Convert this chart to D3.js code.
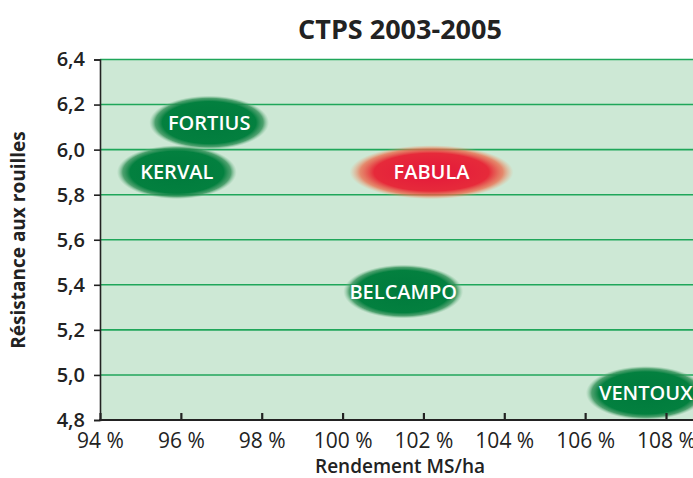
<!DOCTYPE html>
<html><head><meta charset="utf-8">
<script src="https://cdn.jsdelivr.net/npm/d3@7"></script>
<style>body{margin:0;background:#fff;} svg{display:block;font-family:"Open Sans",sans-serif;}</style>
</head><body>
<svg id="c" width="693" height="478"></svg>
<script>
const title = "CTPS 2003-2005";
const xTitle = "Rendement MS/ha";
const yTitle = "Résistance aux rouilles";
const varieties = ["FORTIUS","KERVAL","FABULA","BELCAMPO","VENTOUX"];
const rendement = [96.7, 95.9, 102.2, 101.5, 107.5];
const resistance = [6.12, 5.90, 5.90, 5.37, 4.92];
const highlight = [false, false, true, false, false];
const xTicks = [94,96,98,100,102,104,106,108];
const yTicks = [4.8,5.0,5.2,5.4,5.6,5.8,6.0,6.2,6.4];

const svg = d3.select("#c");
const m = {left:100, top:59.5, bottom:420};
const x = d3.scaleLinear().domain([94,108]).range([m.left, 666]);
const y = d3.scaleLinear().domain([4.8,6.4]).range([m.bottom, m.top]);
const W = 693;

const defs = svg.append("defs");
function grad(id, stops){
  const g = defs.append("radialGradient").attr("id",id).attr("cx","50%").attr("cy","50%").attr("r","50%");
  stops.forEach(s=>g.append("stop").attr("offset",s[0]).attr("stop-color",s[1]).attr("stop-opacity",s[2]));
}
grad("gGreen", [["0%","#007a3c",1],["78%","#03803f",1],["90%","#2e8f55",0.8],["100%","#7fbf95",0]]);
grad("gRed", [["0%","#e4173a",1],["70%","#e62a3a",1],["87%","#ec6a4a",0.75],["100%","#f3a070",0]]);

// plot background
svg.append("rect").attr("x",m.left).attr("y",m.top).attr("width",W-m.left).attr("height",m.bottom-m.top).attr("fill","#cde8d5");

// grid
svg.append("g").selectAll("line").data(yTicks.filter(d=>d>4.8)).join("line")
  .attr("x1",m.left).attr("x2",W).attr("y1",d=>y(d)).attr("y2",d=>y(d))
  .attr("stroke","#1fa65a").attr("stroke-width",1.6);

// title
svg.append("text").attr("x",400).attr("y",39).attr("text-anchor","middle")
  .attr("font-size",27).attr("font-weight",700).attr("fill","#222").text(title);

// ellipses
const pts = varieties.map((v,i)=>({name:v, x:rendement[i], y:resistance[i], hl:highlight[i]}));
const g = svg.append("g").selectAll("g").data(pts).join("g")
  .attr("transform",d=>`translate(${x(d.x)},${y(d.y)})`);
g.append("ellipse").attr("rx",d=>d.hl?82:60).attr("ry",27)
  .attr("fill",d=>d.hl?"url(#gRed)":"url(#gGreen)");
g.append("text").attr("text-anchor","middle").attr("dy","0.36em")
  .attr("font-size",20).attr("font-weight",600).attr("fill","#fff").text(d=>d.name);

// y axis
const ya = svg.append("g").attr("transform",`translate(${m.left},0)`)
  .call(d3.axisLeft(y).tickValues(yTicks).tickSize(6).tickPadding(9).tickFormat(d=>d3.format(".1f")(d).replace(".",",")));
ya.select(".domain").attr("stroke","#222").attr("stroke-width",1.6);
ya.selectAll(".tick line").attr("stroke","#222").attr("stroke-width",1.6);
ya.selectAll(".tick text").attr("font-size",20).attr("font-weight",600).attr("fill","#222").attr("font-family","Open Sans");

// x axis
const xa = svg.append("g").attr("transform",`translate(0,${m.bottom})`)
  .call(d3.axisBottom(x).tickValues(xTicks).tickSize(-7).tickPadding(13).tickFormat(d=>d+" %"));
xa.select(".domain").remove();
xa.append("line").attr("x1",m.left-1).attr("x2",W).attr("stroke","#222").attr("stroke-width",2.2);
xa.selectAll(".tick line").attr("stroke","#222").attr("stroke-width",2.2);
xa.selectAll(".tick text").attr("font-size",21).attr("fill","#222").attr("font-family","Open Sans").attr("font-weight",500);

// axis titles
svg.append("text").attr("x",400).attr("y",473).attr("text-anchor","middle")
  .attr("font-size",19).attr("font-weight",600).attr("fill","#222").text(xTitle);
svg.append("text").attr("transform","translate(25,240) rotate(-90)").attr("text-anchor","middle")
  .attr("font-size",19).attr("font-weight",700).attr("fill","#222").text(yTitle);
</script>
</body></html>
